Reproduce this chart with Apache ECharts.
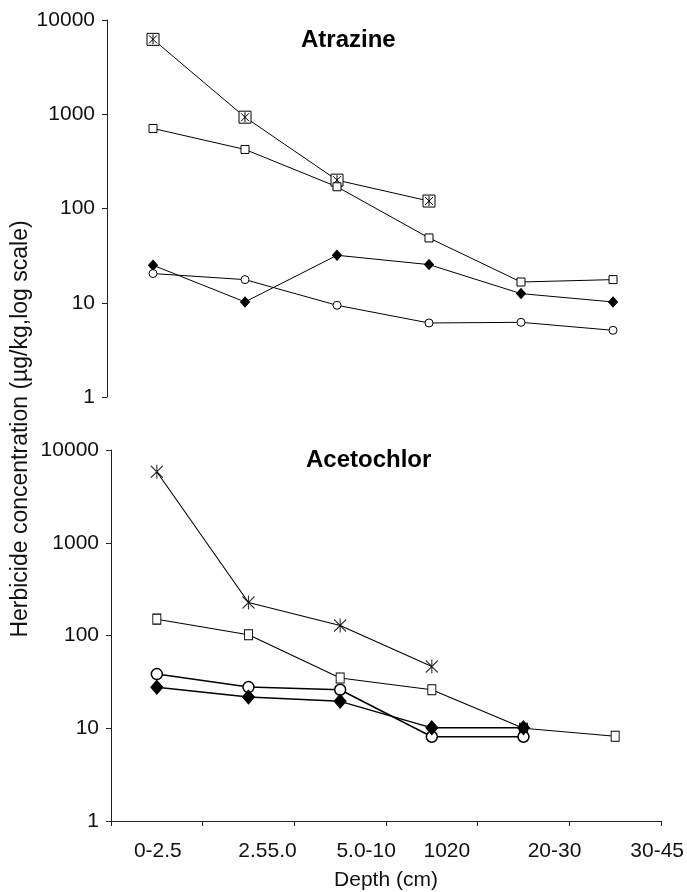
<!DOCTYPE html>
<html>
<head>
<meta charset="utf-8">
<script src="https://cdn.jsdelivr.net/npm/echarts@6/dist/echarts.min.js"></script>
<style>html,body{margin:0;padding:0;background:#fff;}#c{width:687px;height:892px;}</style>
</head>
<body>
<div id="c"></div>
<script>
// ---- data ----
const categories = ['0-2.5', '2.55.0', '5.0-10', '1020', '20-30', '30-45'];
const yTicks = [1, 10, 100, 1000, 10000];

// Atrazine (top panel)
const atzBoxStar = [6230, 931, 200, 120, null, null];
const atzSquare  = [707, 423, 170, 48.7, 16.6, 17.6];
const atzDiamond = [25, 10.2, 31.9, 25.4, 12.5, 10.2];
const atzCircle  = [20.4, 17.6, 9.4, 6.1, 6.2, 5.1];

// Acetochlor (bottom panel)
const aceStar    = [5830, 227, 128, 46.4, null, null];
const aceSquare  = [150, 102, 34.8, 26, 10, 8.2];
const aceCircle  = [38.4, 27.8, 26, 8.1, 8.1, null];
const aceDiamond = [27.6, 21.7, 19.5, 10.1, 10.1, null];

// ---- styles ----
const FONT = 'Arial, "Liberation Sans", Helvetica, sans-serif';
const labelShift = [1, 19, 26, 15, 31, 42]; // horizontal offsets of x labels (px)
const boxStarPath = 'path://M0,0L12,0L12,12L0,12Z M2,2L10,10 M10,2L2,10 M6,1L6,11';
const starPath = 'path://M0,0L12,12 M12,0L0,12 M6,-1L6,13';

const chart = echarts.init(document.getElementById('c'), null, {renderer: 'canvas'});

const rich = {};
labelShift.forEach((s, i) => { rich['l' + i] = {padding: [0, 0, 0, 2 * s], fontSize: 21, fontFamily: FONT, color: '#111'}; });

function yAxisCfg(gi) {
  return {
    type: 'log', logBase: 10, gridIndex: gi, min: yTicks[0], max: yTicks[yTicks.length - 1], interval: 1,
    axisLine: {show: true, lineStyle: {color: '#222', width: 1}},
    axisTick: {show: true, inside: false, length: 5, lineStyle: {color: '#222'}},
    splitLine: {show: false},
    minorTick: {show: false},
    axisLabel: {margin: 12, fontSize: 21, fontFamily: FONT, color: '#111', formatter: v => String(Math.round(v))}
  };
}

function lineSeries(name, xi, data, symbol, size, opt) {
  opt = opt || {};
  return {
    name, type: 'line', xAxisIndex: xi, yAxisIndex: xi, data,
    symbol, symbolSize: size, showSymbol: symbol !== 'none', showAllSymbol: true,
    connectNulls: false, animation: false,
    lineStyle: {color: '#000', width: opt.lw || 1},
    itemStyle: {color: opt.fill || '#fff', borderColor: '#000', borderWidth: opt.bw || 1, opacity: 1},
    emphasis: {disabled: true}
  };
}

const option = {
  backgroundColor: '#fff',
  animation: false,
  title: [
    {text: 'Atrazine', left: 296, top: 23, textStyle: {fontSize: 24, fontWeight: 'bold', fontFamily: FONT, color: '#000'}},
    {text: 'Acetochlor', left: 301, top: 443, textStyle: {fontSize: 24, fontWeight: 'bold', fontFamily: FONT, color: '#000'}}
  ],
  grid: [
    {left: 107, top: 20, width: 552, height: 377, containLabel: false},
    {left: 111, top: 450, width: 550, height: 372, containLabel: false}
  ],
  xAxis: [
    {type: 'category', gridIndex: 0, data: categories, boundaryGap: true,
     axisLine: {show: false}, axisTick: {show: false}, axisLabel: {show: false}, splitLine: {show: false}},
    {type: 'category', gridIndex: 1, data: categories, boundaryGap: true,
     name: 'Depth (cm)', nameLocation: 'middle', nameGap: 49,
     nameTextStyle: {fontSize: 21, fontFamily: FONT, color: '#111'},
     axisLine: {show: true, lineStyle: {color: '#222', width: 1}},
     axisTick: {show: true, length: 5, lineStyle: {color: '#222'}},
     axisLabel: {interval: 0, margin: 20, fontSize: 21, fontFamily: FONT, color: '#111',
       formatter: (v, i) => '{l' + i + '|' + v + '}', rich: rich},
     splitLine: {show: false}}
  ],
  yAxis: [yAxisCfg(0), yAxisCfg(1)],
  graphic: [
    {type: 'text', x: 21, y: 429, rotation: Math.PI / 2,
     style: {text: 'Herbicide concentration (µg/kg,log scale)', fontSize: 23, fontFamily: FONT, fill: '#111', align: 'center', verticalAlign: 'middle'}}
  ],
  series: [
    // top
    lineSeries('Atrazine boxed star', 0, atzBoxStar, boxStarPath, 12, {}),
    lineSeries('Atrazine square', 0, atzSquare, 'rect', 8, {}),
    lineSeries('Atrazine diamond', 0, atzDiamond, 'diamond', [9, 10], {fill: '#000'}),
    lineSeries('Atrazine circle', 0, atzCircle, 'circle', 8, {}),
    // bottom
    lineSeries('Acetochlor star line', 1, aceStar, 'none', 0, {lw: 1.1}),
    {type: 'scatter', xAxisIndex: 1, yAxisIndex: 1, data: aceStar, symbol: 'circle', symbolSize: 22,
     itemStyle: {color: '#fff'}, silent: true, animation: false},
    {type: 'scatter', xAxisIndex: 1, yAxisIndex: 1, data: aceStar, symbol: starPath, symbolSize: [12, 14],
     itemStyle: {color: '#000', borderColor: '#000', borderWidth: 1.2}, silent: true, animation: false},
    lineSeries('Acetochlor square', 1, aceSquare, 'rect', [8, 10], {lw: 1.1}),
    lineSeries('Acetochlor circle', 1, aceCircle, 'circle', 11, {lw: 1.5, bw: 1.5}),
    lineSeries('Acetochlor diamond', 1, aceDiamond, 'diamond', [12, 14], {fill: '#000', lw: 1.5})
  ]
};
chart.setOption(option);
</script>
</body>
</html>
